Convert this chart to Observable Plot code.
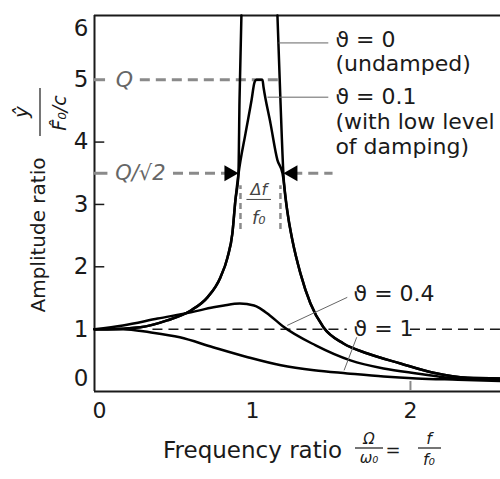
<!DOCTYPE html>
<html><head><meta charset="utf-8">
<script src="https://cdn.jsdelivr.net/npm/d3@7"></script>
<script src="https://cdn.jsdelivr.net/npm/@observablehq/plot@0.6"></script>
<style>body{margin:0;background:#fff} svg{font-family:"DejaVu Sans",sans-serif}</style>
</head><body><div id="chart"></div>
<script>
// ---- data ----
const xTicks = [0, 1, 2];
const yTicks = [0, 1, 2, 3, 4, 5, 6];
const yInnerTicks = [1, 2, 3, 4];

// ϑ = 0 (undamped), two branches
const undLeftX  = [0, 0.08, 0.29, 0.46, 0.61, 0.715, 0.797, 0.842, 0.873, 0.892, 0.911, 0.918, 0.93];
const undLeftY  = [1.0, 1.0, 1.03, 1.14, 1.30, 1.51, 1.83, 2.15, 2.54, 3.07, 3.48, 4.67, 6.03];
const undRightX = [1.158, 1.177, 1.196, 1.22, 1.253, 1.304, 1.367, 1.449, 1.576, 1.728, 1.937, 2.146, 2.36, 2.57];
const undRightY = [6.03, 4.67, 3.48, 2.9, 2.42, 1.89, 1.41, 1.03, 0.77, 0.61, 0.45, 0.30, 0.22, 0.21];

// ϑ = 0.1
const d01X = [0, 0.08, 0.29, 0.46, 0.61, 0.715, 0.797, 0.842, 0.873, 0.892, 0.911, 0.956, 0.994, 1.013, 1.025, 1.063, 1.07, 1.114, 1.158, 1.19, 1.22, 1.253, 1.304, 1.367, 1.449, 1.576, 1.728, 1.937, 2.146, 2.36, 2.57];
const d01Y = [1.0, 1.0, 1.03, 1.14, 1.30, 1.51, 1.83, 2.15, 2.54, 3.07, 3.48, 4.14, 4.67, 4.96, 5.0, 5.0, 4.88, 4.30, 3.71, 3.5, 2.9, 2.42, 1.89, 1.41, 1.03, 0.77, 0.61, 0.45, 0.30, 0.22, 0.21];

// ϑ = 0.4
const d04X = [0, 0.18, 0.40, 0.61, 0.753, 0.82, 0.92, 1.01, 1.05, 1.11, 1.19, 1.40, 1.62, 1.83, 2.04, 2.25, 2.57];
const d04Y = [1.0, 1.06, 1.17, 1.27, 1.35, 1.38, 1.41, 1.38, 1.33, 1.22, 1.05, 0.74, 0.50, 0.37, 0.29, 0.22, 0.19];

// ϑ = 1
const d1X = [0, 0.18, 0.35, 0.54, 0.75, 0.97, 1.18, 1.39, 1.60, 1.83, 2.04, 2.30, 2.57];
const d1Y = [1.0, 1.0, 0.95, 0.87, 0.71, 0.55, 0.42, 0.34, 0.29, 0.24, 0.21, 0.19, 0.17];

// annotation labels
const labelText = ["ϑ = 0", "(undamped)", "ϑ = 0.1", "(with low level", "of damping)", "ϑ = 0.4", "ϑ = 1"];
const labelX = [1.525, 1.525, 1.525, 1.525, 1.525, 1.64, 1.64];
const labelY = [5.63, 5.25, 4.72, 4.32, 3.92, 1.57, 1.0];

const Q = 5;
const Qroot2 = 3.5;

// ---- build table ----
const rows = [];
function addSeries(name, xs, ys) { xs.forEach((x, i) => rows.push({series: name, x, y: ys[i]})); }
addSeries("0L", undLeftX, undLeftY);
addSeries("0R", undRightX, undRightY);
addSeries("0.1", d01X, d01Y);
addSeries("0.4", d04X, d04Y);
addSeries("1", d1X, d1Y);

const labels = labelText.map((t, i) => ({t, x: labelX[i], y: labelY[i]}));

const gray = "#8a8a8a";
const ink = "#1a1a1a";
const dash = "10,6";

const chart = Plot.plot({
  width: 500, height: 479,
  marginLeft: 94, marginRight: 0, marginTop: 15, marginBottom: 88,
  x: {domain: [0, 2.57], axis: null},
  y: {domain: [0, 6.03], axis: null},
  style: {fontFamily: "DejaVu Sans, sans-serif", background: "white"},
  marks: [
    // frame (left, bottom, top)
    Plot.ruleX([0], {stroke: ink, strokeWidth: 2}),
    Plot.ruleY([0], {stroke: ink, strokeWidth: 2}),
    Plot.ruleY([6.03], {stroke: ink, strokeWidth: 2}),
    // inner ticks
    Plot.ruleY(yInnerTicks, {x1: 0, x2: 0.065, stroke: ink, strokeWidth: 1.5}),
    Plot.ruleX([2], {y1: 0, y2: 0.16, stroke: gray, strokeWidth: 2}),
    // tick labels
    Plot.text(xTicks.filter(d => d !== 0), {x: d => d, y: 0, dy: 19, text: d => String(d), fontSize: 22, fill: ink}),
    Plot.text([0], {x: d => d, y: 0, dy: 19, dx: 5, text: d => String(d), fontSize: 22, fill: ink}),
    Plot.text(yTicks.filter(d => d > 0 && d < 6), {x: 0, y: d => d, dx: -6, text: d => String(d), textAnchor: "end", fontSize: 23, fill: ink}),
    Plot.text([6], {x: 0, y: d => d, dx: -6, dy: 11, text: d => String(d), textAnchor: "end", fontSize: 23, fill: ink}),
    Plot.text([0], {x: 0, y: d => d, dx: -6, dy: -13, text: d => String(d), textAnchor: "end", fontSize: 23, fill: ink}),
    // reference dashed lines (broken where the labels sit)
    Plot.ruleY([Q], {x1: 0, x2: 0.07, stroke: gray, strokeWidth: 3}),
    Plot.ruleY([Q], {x1: 0.29, x2: 1.18, stroke: gray, strokeWidth: 3, strokeDasharray: dash}),
    Plot.ruleY([Qroot2], {x1: 0, x2: 0.085, stroke: gray, strokeWidth: 3}),
    Plot.ruleY([Qroot2], {x1: 0.5, x2: 0.86, stroke: gray, strokeWidth: 3, strokeDasharray: dash}),
    Plot.ruleY([Qroot2], {x1: 1.255, x2: 1.51, stroke: gray, strokeWidth: 3, strokeDasharray: dash}),
    Plot.ruleY([1], {x1: 0.37, x2: 1.6, stroke: ink, strokeWidth: 1.5, strokeDasharray: dash}),
    Plot.ruleY([1], {x1: 2.0, x2: 2.57, stroke: ink, strokeWidth: 1.5, strokeDasharray: dash}),
    Plot.ruleX([0.924, 1.177], {y1: 2.6, y2: 3.3, stroke: gray, strokeWidth: 2.5, strokeDasharray: "6,4"}),
    // curves
    Plot.line(rows, {x: "x", y: "y", z: "series", curve: "monotone-x", stroke: "black", strokeWidth: 2.5}),
    // arrowheads
    Plot.dot([{x: 0.852, y: Qroot2, a: 90}, {x: 1.255, y: Qroot2, a: -90}], {x: "x", y: "y", rotate: "a", symbol: "triangle", r: 6, fill: "black", stroke: "none"}),
    // Q labels
    Plot.text(["Q"], {x: 0.19, y: Q, text: d => d, fontSize: 22, fontStyle: "italic", fill: "#666"}),
    Plot.text(["Q/√2"], {x: 0.29, y: Qroot2, text: d => d, fontSize: 21, fontStyle: "italic", fill: "#666"}),
    // bandwidth fraction
    Plot.text(["Δf"], {x: 1.04, y: 3.24, text: d => d, fontSize: 16, fontStyle: "italic", fill: "#444"}),
    Plot.ruleY([3.08], {x1: 0.965, x2: 1.12, stroke: "#444", strokeWidth: 1}),
    Plot.text(["f₀"], {x: 1.04, y: 2.78, text: d => d, fontSize: 18, fontStyle: "italic", fill: "#444"}),
    // leader lines
    Plot.link([
      {x1: 1.165, y1: 5.59, x2: 1.48, y2: 5.59},
      {x1: 1.095, y1: 4.72, x2: 1.48, y2: 4.72},
      {x1: 1.22, y1: 1.06, x2: 1.60, y2: 1.51},
      {x1: 1.58, y1: 0.34, x2: 1.66, y2: 0.87}
    ], {x1: "x1", y1: "y1", x2: "x2", y2: "y2", stroke: "#666", strokeWidth: 1}),
    // curve labels
    Plot.text(labels, {x: "x", y: "y", text: "t", textAnchor: "start", fontSize: 22, fill: ink})
  ]
});

// axis titles
const svg = d3.select(chart);
const g = svg.append("g").attr("fill", ink).attr("font-family", "DejaVu Sans, sans-serif");
g.append("text").attr("transform", "translate(45,235) rotate(-90)").attr("text-anchor", "middle").attr("font-size", 20).text("Amplitude ratio");
g.append("text").attr("transform", "translate(28,112) rotate(-90)").attr("text-anchor", "middle").attr("font-size", 20).attr("font-style", "italic").text("ŷ");
g.append("line").attr("x1", 40).attr("x2", 40).attr("y1", 88).attr("y2", 136).attr("stroke", ink).attr("stroke-width", 1.2);
g.append("text").attr("transform", "translate(66,113) rotate(-90)").attr("text-anchor", "middle").attr("font-size", 19).attr("font-style", "italic").text("F̂₀/c");

g.append("text").attr("x", 163).attr("y", 458).attr("text-anchor", "start").attr("font-size", 23).text("Frequency ratio");
g.append("text").attr("x", 369).attr("y", 444).attr("text-anchor", "middle").attr("font-size", 15).attr("font-style", "italic").text("Ω");
g.append("line").attr("x1", 355).attr("x2", 383).attr("y1", 448).attr("y2", 448).attr("stroke", ink).attr("stroke-width", 1.2);
g.append("text").attr("x", 369).attr("y", 463).attr("text-anchor", "middle").attr("font-size", 15).attr("font-style", "italic").text("ω₀");
g.append("text").attr("x", 393).attr("y", 456).attr("text-anchor", "middle").attr("font-size", 18).text("=");
g.append("text").attr("x", 429).attr("y", 444).attr("text-anchor", "middle").attr("font-size", 16).attr("font-style", "italic").text("f");
g.append("line").attr("x1", 418).attr("x2", 441).attr("y1", 448).attr("y2", 448).attr("stroke", ink).attr("stroke-width", 1.2);
g.append("text").attr("x", 429).attr("y", 465).attr("text-anchor", "middle").attr("font-size", 16).attr("font-style", "italic").text("f₀");

document.getElementById("chart").appendChild(chart);
</script>
</body></html>
